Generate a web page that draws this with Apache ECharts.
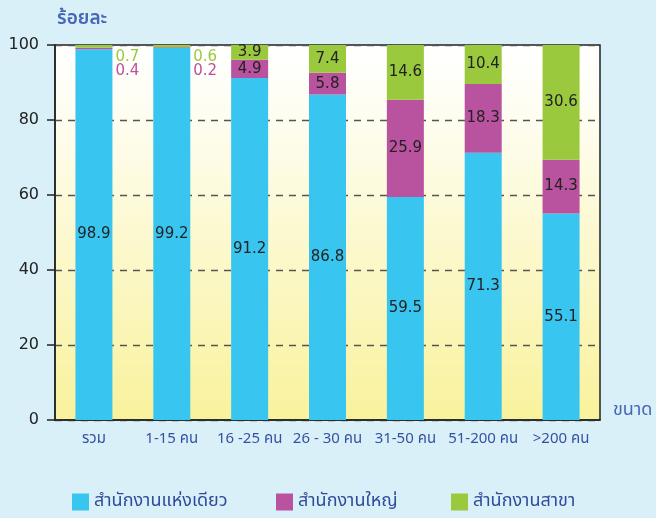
<!DOCTYPE html>
<html><head><meta charset="utf-8">
<script src="https://cdn.jsdelivr.net/npm/echarts@6/dist/echarts.min.js"></script>
<style>html,body{margin:0;padding:0;background:#DAF0F8;}#c{width:656px;height:518px;}</style>
</head><body><div id="c"></div>
<script>
const categories = ['รวม', '1-15 คน', '16 -25 คน', '26 - 30 คน', '31-50 คน', '51-200 คน', '>200 คน'];
const seriesNames = ['สำนักงานแห่งเดียว', 'สำนักงานใหญ่', 'สำนักงานสาขา'];
const single = [98.9, 99.2, 91.2, 86.8, 59.5, 71.3, 55.1];
const head = [0.4, 0.2, 4.9, 5.8, 25.9, 18.3, 14.3];
const branch = [0.7, 0.6, 3.9, 7.4, 14.6, 10.4, 30.6];
const yTicks = [0, 20, 40, 60, 80, 100];

const colors = ['#38C6F1', '#B9529F', '#9AC93D'];
const font = '"DejaVu Sans", "Noto Sans", sans-serif';
const thaiFont = '"Noto Sans Thai", "Tahoma", "Noto Sans", sans-serif';
const legendLefts = [72, 276, 451];

function mk(vals, idx) {
  return vals.map((v, i) => {
    const d = { value: v };
    if (v < 1) {
      d.label = {
        position: 'right', distance: 3, color: colors[idx],
        offset: idx === 2 ? [0, 11] : [0, 23]
      };
    }
    return d;
  });
}

const chart = echarts.init(document.getElementById('c'), null, { renderer: 'canvas' });
chart.setOption({
  backgroundColor: '#DAF0F8',
  animation: false,
  grid: {
    left: 55, right: 56, top: 45, bottom: 98, show: true,
    borderColor: '#222', borderWidth: 1.5,
    backgroundColor: new echarts.graphic.LinearGradient(0, 0, 0, 1, [
      { offset: 0, color: '#ffffff' },
      { offset: 0.2, color: '#fefdf0' },
      { offset: 1, color: '#f9f29c' }
    ])
  },
  graphic: [
    { type: 'text', left: 57, top: 11, style: { text: 'ร้อยละ', fill: '#4866B6', font: '600 19px ' + thaiFont } },
    { type: 'text', left: 613, top: 402, style: { text: 'ขนาด', fill: '#4866B6', font: '18px ' + thaiFont } }
  ],
  legend: seriesNames.map((n, i) => ({
    data: [n], top: 493, left: legendLefts[i], itemWidth: 17, itemHeight: 17,
    icon: 'rect', padding: 0, itemGap: 0,
    textStyle: { color: '#2E4C9C', fontSize: 18, fontFamily: thaiFont }
  })),
  xAxis: {
    type: 'category', data: categories,
    axisLine: { lineStyle: { color: '#222', width: 1.5 } },
    axisTick: { length: 6, lineStyle: { color: '#222', width: 1.5 } },
    axisLabel: { interval: 0, color: '#3451A3', fontSize: 15, fontFamily: thaiFont, margin: 12 }
  },
  yAxis: {
    type: 'value', min: 0, max: 100, interval: 20,
    axisLine: { show: true, lineStyle: { color: '#222', width: 1.5 } },
    axisTick: { show: true, length: 8, lineStyle: { color: '#222', width: 1.5 } },
    axisLabel: { color: '#222', fontSize: 16, fontFamily: font, margin: 16,
      formatter: v => yTicks.includes(v) ? String(v) : '' },
    splitLine: { lineStyle: { color: '#555', type: [7, 6], width: 1.3 } }
  },
  series: [single, head, branch].map((vals, idx) => ({
    name: seriesNames[idx], type: 'bar', stack: 'a', barWidth: 37,
    itemStyle: { color: colors[idx] },
    label: { show: true, position: 'inside', color: '#222', fontSize: 15, fontFamily: font },
    data: mk(vals, idx)
  }))
});
</script></body></html>
